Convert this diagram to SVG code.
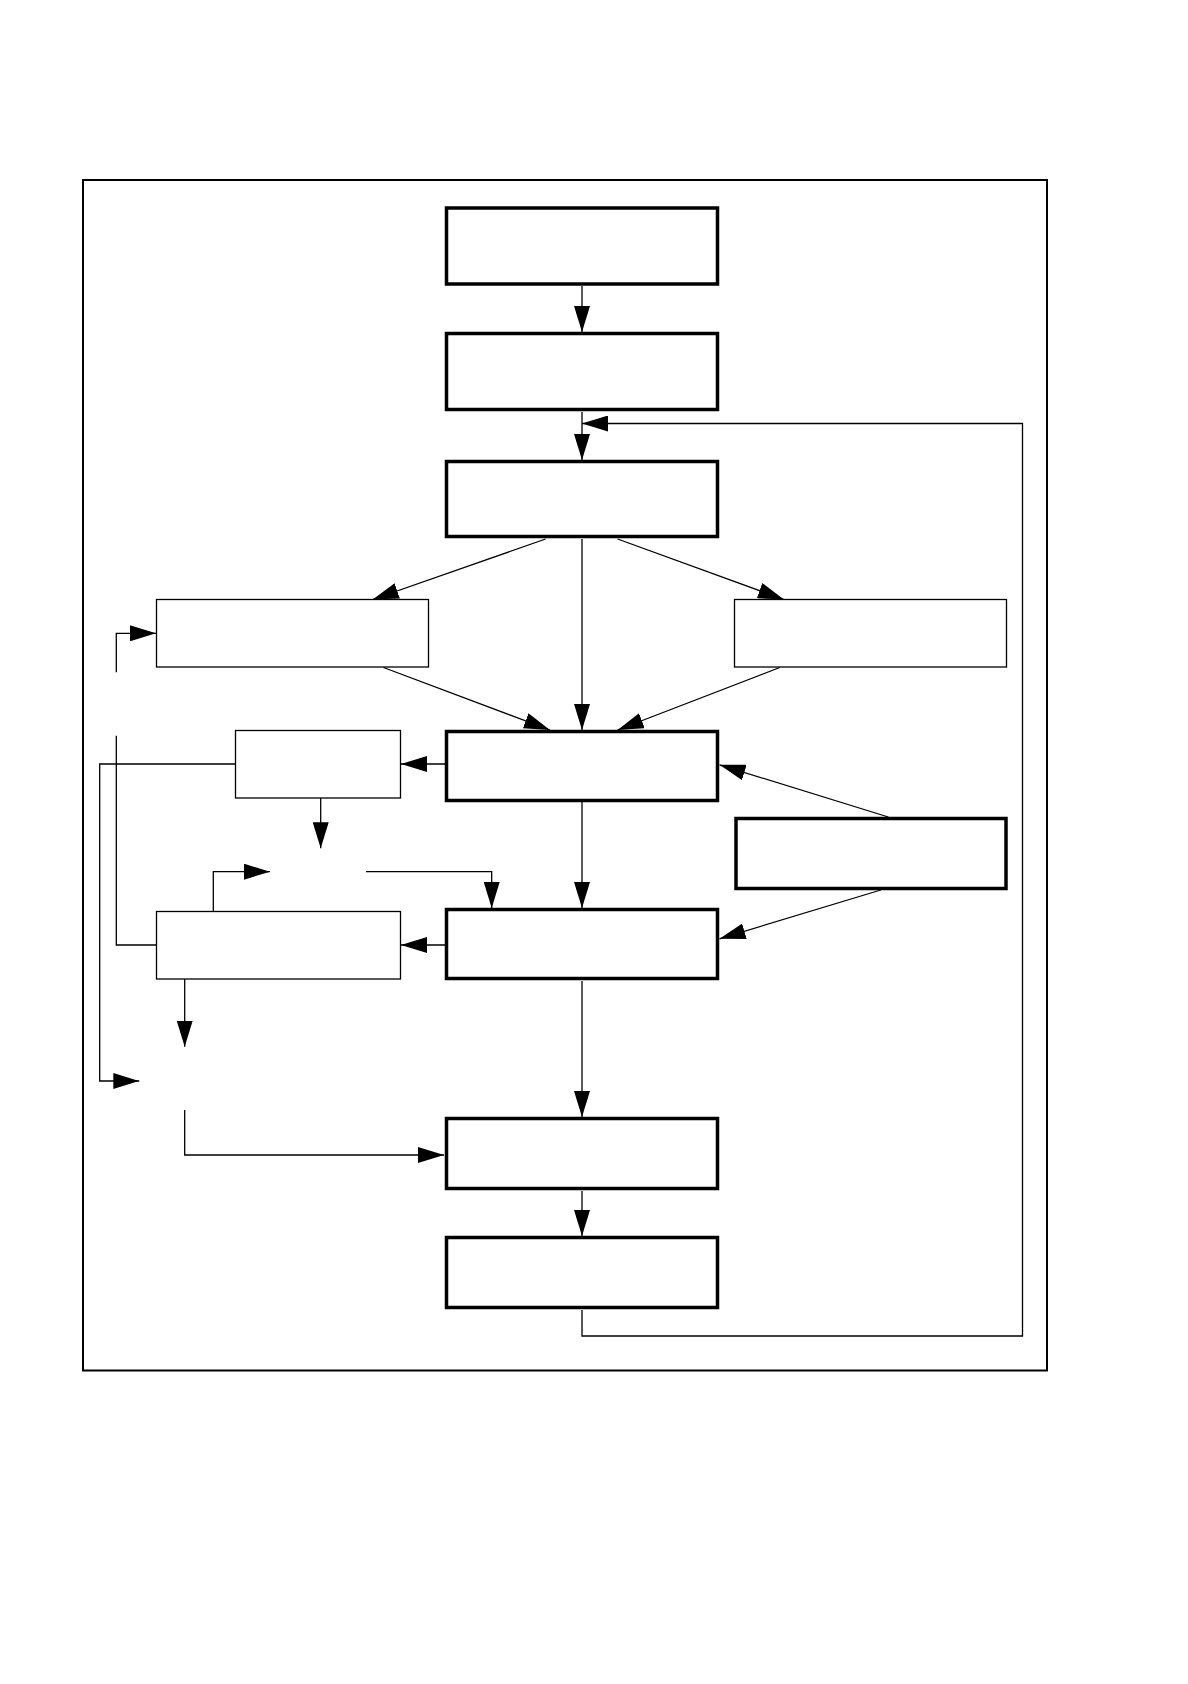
<svg xmlns="http://www.w3.org/2000/svg" width="1188" height="1684" viewBox="0 0 1188 1684">
<defs>
<style>
.thick{fill:#fff;stroke:#000;stroke-width:3.5}
.thin{fill:#fff;stroke:#000;stroke-width:1.3}
.frame{fill:none;stroke:#000;stroke-width:2}
.c{fill:none;stroke:#000;stroke-width:1.3}
.a{marker-end:url(#ah)}
</style>
<marker id="ah" viewBox="0 0 26 16" refX="26" refY="8" markerWidth="26" markerHeight="16" markerUnits="userSpaceOnUse" orient="auto">
<path d="M0,0 L26,8 L0,16 z" fill="#000"/>
</marker>
</defs>
<rect width="1188" height="1684" fill="#fff"/>
<rect class="frame" x="83" y="180" width="964" height="1190.5"/>
<g id="connectors">
<path class="c a" d="M582,286 V332"/>
<path class="c a" d="M582,412 V460"/>
<path class="c a" d="M582,1310 V1336 H1022.5 V423.5 H582"/>
<path class="c a" d="M582,539 V730"/>
<path class="c a" d="M545.6,539 L372.7,599.5"/>
<path class="c a" d="M617.6,539 L784,599.5"/>
<path class="c a" d="M383.5,667.5 L550,730"/>
<path class="c a" d="M779.8,667.5 L617.6,730"/>
<path class="c a" d="M582,802 V908"/>
<path class="c a" d="M888.3,817 L719.5,764.8"/>
<path class="c a" d="M880.8,890 L719.5,938.8"/>
<path class="c a" d="M445,764 H401"/>
<path class="c a" d="M445,945 H401"/>
<path class="c a" d="M235.5,764 H99.7 V1081 H139.3"/>
<path class="c a" d="M320.7,798 V848.3"/>
<path class="c a" d="M366,871.7 H491.7 V908"/>
<path class="c a" d="M213.3,911.5 V871.7 H270"/>
<path class="c" d="M156.5,945 H116.3 V735.7"/>
<path class="c a" d="M116.3,672.3 V633.3 H156"/>
<path class="c a" d="M184.7,979 V1046.7"/>
<path class="c a" d="M184.7,1110 V1155 H444"/>
<path class="c a" d="M582,981 V1117"/>
<path class="c a" d="M582,1191 V1236"/>
</g>
<g id="n1"><rect class="thick" x="446.5" y="208" width="271" height="76"/></g>
<g id="n2"><rect class="thick" x="446.5" y="333.5" width="271" height="76"/></g>
<g id="n3"><rect class="thick" x="446.5" y="461.5" width="271" height="75"/></g>
<g id="nA"><rect class="thin" x="156.5" y="599.5" width="272" height="67.5"/></g>
<g id="nB"><rect class="thin" x="734.5" y="599.5" width="272" height="67.5"/></g>
<g id="n4"><rect class="thick" x="446.5" y="731.5" width="271" height="69"/></g>
<g id="nC"><rect class="thin" x="235.5" y="730.5" width="165" height="67.5"/></g>
<g id="nD"><rect class="thick" x="736" y="818.5" width="270" height="70"/></g>
<g id="n5"><rect class="thick" x="446.5" y="909.5" width="271" height="69"/></g>
<g id="nE"><rect class="thin" x="156.5" y="911.5" width="244" height="67.5"/></g>
<g id="n6"><rect class="thick" x="446.5" y="1118.5" width="271" height="70"/></g>
<g id="n7"><rect class="thick" x="446.5" y="1237.5" width="271" height="70"/></g>
</svg>
